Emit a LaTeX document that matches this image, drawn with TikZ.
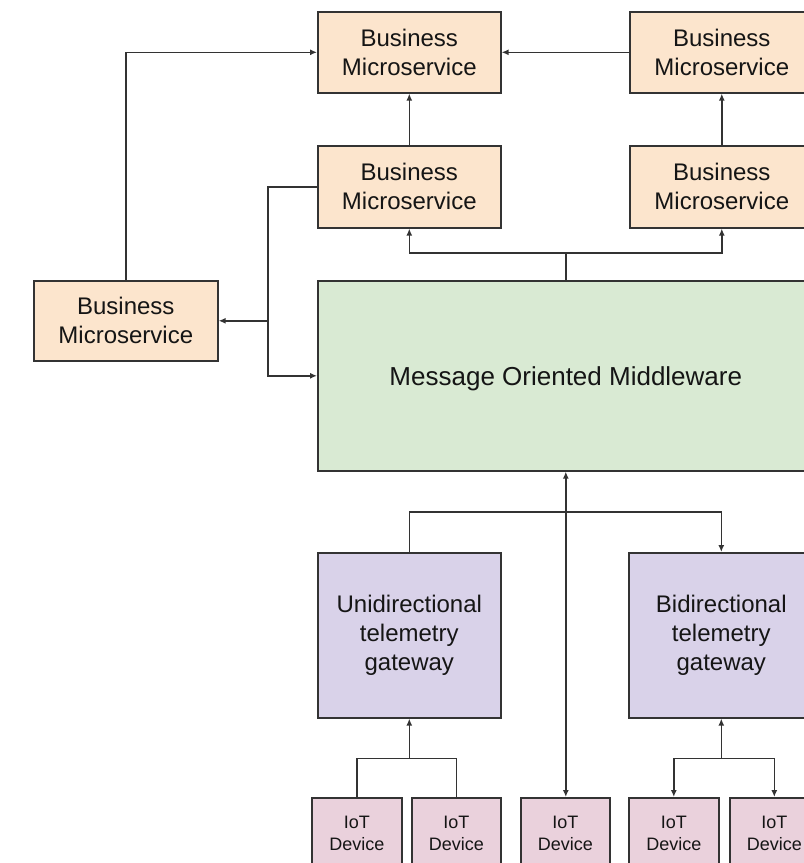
\documentclass[tikz,border=0pt]{standalone}
\usepackage{fontspec}
\setmainfont{Liberation Sans}
\usetikzlibrary{arrows.meta,calc}

\definecolor{svcfill}{HTML}{FCE5CD}
\definecolor{momfill}{HTML}{D9EAD3}
\definecolor{gwfill}{HTML}{D9D2E9}
\definecolor{devfill}{HTML}{EAD1DC}
\definecolor{edge}{HTML}{333333}
\definecolor{ink}{HTML}{151515}

\tikzset{
  box/.style={draw=edge, line width=1.6pt, inner sep=0pt, anchor=north west,
    align=center, text=ink},
  svc/.style={box, fill=svcfill, minimum width=183pt, minimum height=81pt,
    font=\fontsize{24}{29}\selectfont},
  mw/.style={box, fill=momfill, font=\fontsize{26}{31}\selectfont},
  gw/.style={box, fill=gwfill, minimum height=165pt,
    font=\fontsize{24}{29}\selectfont},
  dev/.style={box, fill=devfill, minimum width=89pt, minimum height=71pt,
    font=\fontsize{18}{22}\selectfont},
  link/.style={draw=edge, line width=1.6pt},
  tip/.tip={Latex[length=7pt,width=6pt]},
  arr/.style={link, -tip},
  biarr/.style={link, tip-tip},
}

\begin{document}
\begin{tikzpicture}[x=1pt, y=-1pt]
  \path[use as bounding box] (0,0) rectangle (804,863);
  \clip (0,0) rectangle (804,863);

  % business microservices
  \node[svc] (bm1) at (317,11) {Business\\Microservice};
  \node[svc, minimum width=184pt] (bm2) at (629,11) {Business\\Microservice};
  \node[svc, minimum height=82pt] (bm3) at (317,145) {Business\\Microservice};
  \node[svc, minimum width=184pt, minimum height=82pt] (bm4) at (629,145) {Business\\Microservice};
  \node[svc, minimum width=184pt, minimum height=80pt] (bm5) at (33,280) {Business\\Microservice};

  % middleware
  \node[mw, minimum width=496pt, minimum height=190pt, text depth=-3pt] (mom) at (317,280) {Message Oriented Middleware};

  % gateways
  \node[gw, minimum width=183pt] (uni) at (317,552) {Unidirectional\\telemetry\\gateway};
  \node[gw, minimum width=185pt] (bi) at (628,552) {Bidirectional\\telemetry\\gateway};

  % devices
  \node[dev, minimum width=90pt] (d1) at (311,797) {IoT\\Device};
  \node[dev] (d2) at (411,797) {IoT\\Device};
  \node[dev] (d3) at (520,797) {IoT\\Device};
  \node[dev, minimum width=90pt] (d4) at (628,797) {IoT\\Device};
  \node[dev] (d5) at (729,797) {IoT\\Device};

  % upper service links
  \draw[arr] (bm5.north) |- (bm1.west);
  \draw[arr] (bm2.west) -- (bm1.east);
  \draw[arr] (bm3.north) -- (bm1.south);
  \draw[arr] (bm4.north) -- (bm2.south);

  % middleware fan-out to services
  \coordinate (top) at ($(mom.north)+(0,-27)$);
  \draw[link] (mom.north) -- (top);
  \draw[arr] (top) -| (bm3.south);
  \draw[arr] (top) -| (bm4.south);

  % service bus on the left
  \coordinate (bus) at (268,0);
  \draw[arr] (bm3.west) -- (bm3.west -| bus) |- (mom.west);
  \draw[arr] (bus |- bm5.east) -- (bm5.east);

  % middleware to direct device
  \draw[biarr] (mom.south) -- (mom.south |- d3.north);

  % gateways
  \coordinate (mid) at (mom.south |- 0,512);
  \draw[link] (uni.north) |- (mid);
  \draw[arr] (mid) -| (bi.north);

  % devices to unidirectional gateway
  \coordinate (ujn) at ($(uni.south)+(0,40)$);
  \draw[arr] (ujn) -- (uni.south);
  \draw[link] (d1.north) |- (ujn);
  \draw[link] (d2.north) |- (ujn);

  % bidirectional gateway to devices
  \coordinate (bjn) at ($(bi.south)+(0,40)$);
  \draw[arr] (bjn) -- (bi.south);
  \draw[arr] (bjn) -| (d4.north);
  \draw[arr] (bjn) -| (d5.north);
\end{tikzpicture}
\end{document}
